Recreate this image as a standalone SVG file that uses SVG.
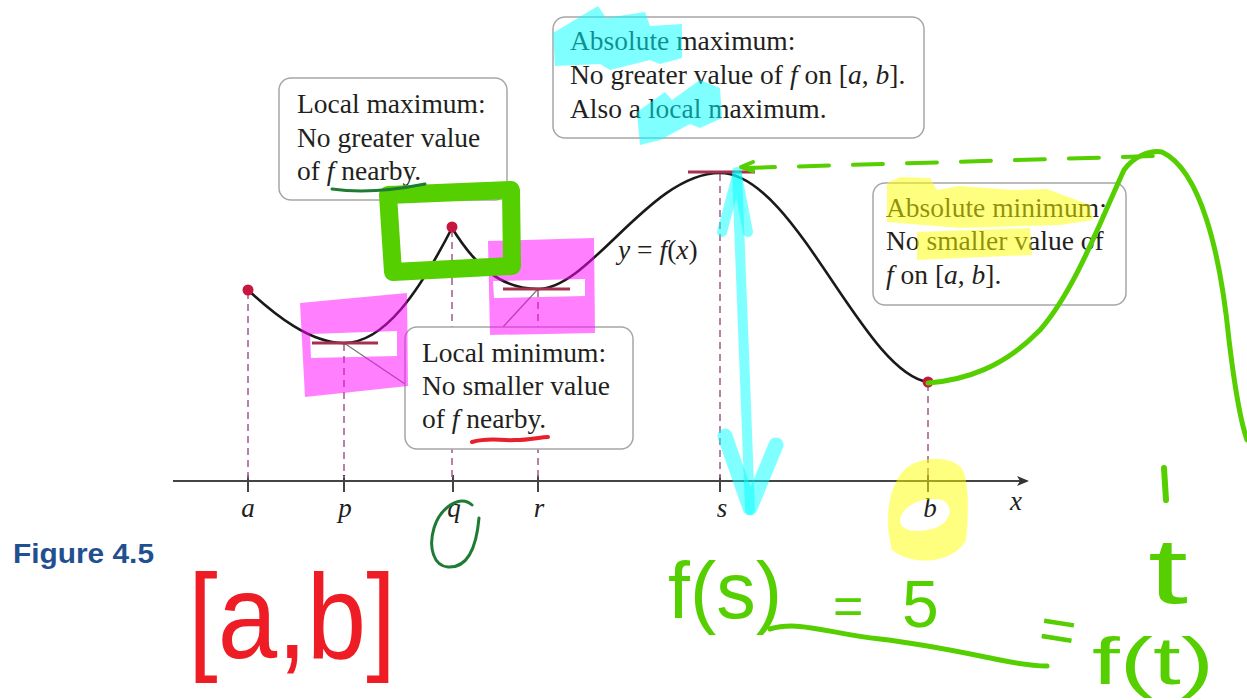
<svg xmlns="http://www.w3.org/2000/svg" width="1247" height="700" viewBox="0 0 1247 700">
<defs>
<style>
.box{fill:#fff;stroke:#a6a6a6;stroke-width:1.5}
.bt{font-family:"Liberation Serif",serif;font-size:27.5px;fill:#231f20}
.it{font-style:italic}
.lab{font-family:"Liberation Serif",serif;font-size:27px;font-style:italic;fill:#231f20;text-anchor:middle}
.dash{stroke:#a8638f;stroke-width:1.6;stroke-dasharray:7 5;fill:none}
.tick{stroke:#444;stroke-width:2}
.tan{stroke:#a8304f;stroke-width:3}
.lead{stroke:#777;stroke-width:1.2;fill:none}
.dot{fill:#c8173f}
.grn{stroke:#55cf00;fill:none;stroke-linecap:round;stroke-linejoin:round}
.hw{font-family:"Liberation Sans",sans-serif;fill:#55cf00}
.cy{fill:#00ffff;opacity:0.5}
.ye{fill:#ffff00;opacity:0.5}
.mg{fill:#ff00ff;opacity:0.5;fill-rule:evenodd}
</style>
<marker id="ax" markerWidth="12" markerHeight="10" refX="10" refY="5" orient="auto" markerUnits="userSpaceOnUse">
<path d="M0,0 L12,5 L0,10 L3,5 Z" fill="#333"/>
</marker>
</defs>
<rect width="1247" height="700" fill="#fff"/>

<g id="axis">
<line x1="173" y1="481" x2="1027" y2="481" stroke="#444" stroke-width="2" marker-end="url(#ax)"/>
<line class="tick" x1="248" y1="475" x2="248" y2="492"/>
<line class="tick" x1="344" y1="475" x2="344" y2="492"/>
<line class="tick" x1="453" y1="475" x2="453" y2="492"/>
<line class="tick" x1="538" y1="475" x2="538" y2="492"/>
<line class="tick" x1="720" y1="475" x2="720" y2="492"/>
<line class="tick" x1="928" y1="475" x2="928" y2="492"/>
<text class="lab" x="248" y="517">a</text>
<text class="lab" x="345" y="517">p</text>
<text class="lab" x="454" y="517">q</text>
<text class="lab" x="539" y="517">r</text>
<text class="lab" x="722" y="517">s</text>
<text class="lab" x="930" y="517">b</text>
<text class="lab" x="1016" y="510">x</text>
</g>

<g id="connectors">
<line class="dash" x1="248" y1="292" x2="248" y2="478"/>
<line class="dash" x1="344" y1="344" x2="344" y2="478"/>
<line class="dash" x1="452" y1="230" x2="452" y2="478"/>
<line class="dash" x1="538" y1="290" x2="538" y2="478"/>
<line class="dash" x1="720" y1="174" x2="720" y2="478"/>
<line class="dash" x1="928" y1="384" x2="928" y2="478"/>
<line class="lead" x1="344" y1="343" x2="405" y2="384"/>
<line class="lead" x1="538" y1="289" x2="502" y2="328"/>
</g>

<g id="curve">
<path d="M248,290 C275,315 310,343 344,343 C385,343 420,290 452,228 C475,265 500,289 538,289 C590,289 650,173 720,173 C795,173 862,372 928,382" fill="none" stroke="#1a1a1a" stroke-width="2.6"/>
<line class="tan" x1="312" y1="343" x2="378" y2="343"/>
<line class="tan" x1="503" y1="289" x2="570" y2="289"/>
<line class="tan" x1="688" y1="172" x2="755" y2="172"/>
<circle class="dot" cx="248" cy="290" r="5.5"/>
<circle class="dot" cx="452" cy="227" r="5.5"/>
<circle class="dot" cx="928" cy="382" r="5.5"/>
<text class="bt" x="618" y="259"><tspan class="it">y</tspan> = <tspan class="it">f</tspan>(<tspan class="it">x</tspan>)</text>
</g>

<g id="local-max">
<rect class="box" x="279" y="78" width="228" height="122" rx="12"/>
<text class="bt" x="297" y="113">Local maximum:</text>
<text class="bt" x="297" y="147">No greater value</text>
<text class="bt" x="297" y="180">of <tspan class="it">f</tspan> nearby.</text>
</g>

<g id="abs-max">
<rect class="box" x="553" y="17" width="371" height="121" rx="12"/>
<text class="bt" x="570" y="50">Absolute maximum:</text>
<text class="bt" x="570" y="84">No greater value of <tspan class="it">f</tspan> on [<tspan class="it">a</tspan>, <tspan class="it">b</tspan>].</text>
<text class="bt" x="570" y="118">Also a local maximum.</text>
</g>

<g id="abs-min">
<rect class="box" x="873" y="183" width="253" height="122" rx="12"/>
<text class="bt" x="886" y="217">Absolute minimum:</text>
<text class="bt" x="886" y="250">No smaller value of</text>
<text class="bt" x="886" y="284"><tspan class="it">f</tspan> on [<tspan class="it">a</tspan>, <tspan class="it">b</tspan>].</text>
</g>

<g id="local-min">
<rect class="box" x="405" y="327" width="228" height="122" rx="12"/>
<text class="bt" x="422" y="362">Local minimum:</text>
<text class="bt" x="422" y="395">No smaller value</text>
<text class="bt" x="422" y="428">of <tspan class="it">f</tspan> nearby.</text>
</g>

<g id="caption">
<text x="13" y="563" font-family="'Liberation Sans',sans-serif" font-weight="bold" font-size="28" fill="#1f5190" textLength="141" lengthAdjust="spacingAndGlyphs">Figure 4.5</text>
</g>

<g id="highlights">
<path class="mg" d="M300,303 L407,293 L408,386 L305,397 Z M310,334 L397,331 L397,356 L311,358 Z"/>
<path class="mg" d="M488,241 L594,238 L595,333 L490,335 Z M493,281 L585,279 L585,296 L494,298 Z"/>
<path class="cy" d="M553,33 L598,6 L606,18 L645,12 L650,26 L682,24 L682,58 L660,64 L650,60 L610,70 L600,64 L555,66 Z"/>
<path class="cy" d="M637,112 L665,92 L672,100 L700,80 L720,88 L722,118 L700,128 L690,124 L660,140 L640,145 Z"/>
<path class="ye" d="M887,183 L900,177 L930,178 L937,190 L960,186 L1013,190 L1047,189 L1090,205 L1093,220 L1060,225 L960,228 L887,222 Z"/>
<path class="ye" d="M917,232 L1030,228 L1032,255 L917,260 Z"/>
<path class="ye" fill-rule="evenodd" d="M892,550 C884,520 888,488 904,470 C918,456 952,454 963,470 C970,488 968,520 966,540 C955,562 915,568 892,550 Z M900,522 C900,505 925,496 942,500 C954,505 952,522 935,528 C920,533 902,532 900,522 Z"/>
<g fill="none" stroke="#00ffff" stroke-opacity="0.5" stroke-linecap="round" stroke-linejoin="round">
<path d="M737,172 L750,510" stroke-width="10"/>
<path d="M722,232 L737,176 L748,232" stroke-width="10"/>
<path d="M725,436 L750,508 L776,445" stroke-width="15"/>
</g>
</g>

<g id="annotations">
<path d="M388,195 L511,190 L512,266 L393,272 Z" stroke="#55cf00" stroke-width="18" fill="none" stroke-linejoin="round"/>
<path d="M332,189 C360,193 390,191 425,184" stroke="#1e7b34" stroke-width="3" fill="none" stroke-linecap="round"/>
<path d="M472,442 C490,437 500,441 515,440 C530,440 540,437 548,437" stroke="#e8202a" stroke-width="4" fill="none" stroke-linecap="round"/>
<path d="M472,505 C460,494 440,508 434,528 C428,548 434,566 448,567 C465,568 476,552 479,518" stroke="#1e7b34" stroke-width="3" fill="none" stroke-linecap="round"/>
<path class="grn" d="M745,168 L1155,156" stroke-width="4" stroke-dasharray="30 24"/>
<path class="grn" d="M753,162 L741,167 L753,171" stroke-width="4"/>
<path class="grn" stroke-width="5" d="M928,383 C965,380 1003,368 1040,330 C1075,290 1100,222 1124,170 C1134,156 1150,150 1162,152 C1200,170 1220,250 1229,340 C1235,390 1240,420 1247,440"/>
<path class="grn" stroke-width="5" d="M770,629 C800,620 830,634 880,639 C930,645 960,652 1000,660 C1020,664 1035,666 1047,666"/>
<path class="grn" stroke-width="6" d="M1164,468 L1166,500"/>
<text class="hw" x="668" y="618" font-size="80" textLength="114" lengthAdjust="spacingAndGlyphs">f(s)</text>
<text class="hw" x="833" y="624" font-size="52">=</text>
<text class="hw" x="902" y="627" font-size="66">5</text>
<text class="hw" x="1148" y="603" font-size="92" textLength="40" lengthAdjust="spacingAndGlyphs">t</text>
<text class="hw" x="1040" y="652" font-size="62" transform="rotate(9 1064 630)">=</text>
<text class="hw" x="1092" y="684" font-size="66" textLength="122" lengthAdjust="spacingAndGlyphs">f(t)</text>
<text x="188" y="658" font-family="'Liberation Sans',sans-serif" font-size="120" fill="#ee1c24" textLength="208" lengthAdjust="spacingAndGlyphs">[a,b]</text>
</g>
</svg>
